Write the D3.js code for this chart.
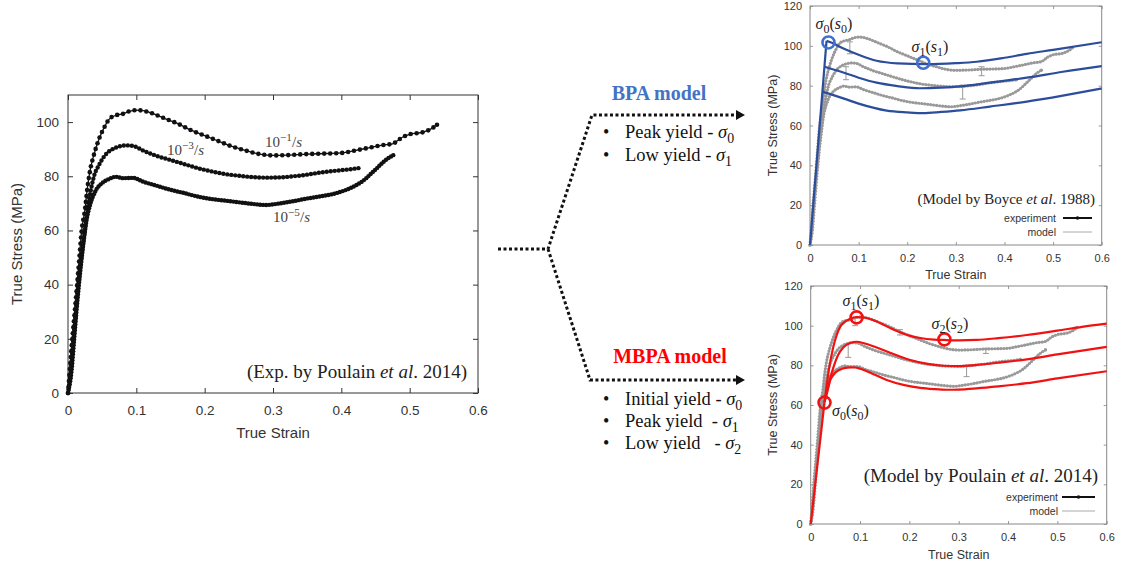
<!DOCTYPE html>
<html>
<head>
<meta charset="utf-8">
<script src="https://cdn.jsdelivr.net/npm/d3@7"></script>
<style>
  body { margin: 0; background: #fff; }
  text { white-space: pre; }
</style>
</head>
<body>
<div id="fig"></div>
<script>
const W = 1124, H = 567;
const SANS = "'Liberation Sans', Arial, sans-serif";
const SERIF = "'Liberation Serif', 'Times New Roman', serif";

// ticks
const strainTicks = [0, 0.1, 0.2, 0.3, 0.4, 0.5, 0.6];
const strainTickLabels = ["0", "0.1", "0.2", "0.3", "0.4", "0.5", "0.6"];
const stressTicksExp = [0, 20, 40, 60, 80, 100];
const stressTicksModel = [0, 20, 40, 60, 80, 100, 120];

// experiment (Poulain 2014), [strain, stress MPa]
const exp1 = [[0,0],[0.003,10],[0.007,22],[0.011,33],[0.016,48],[0.02,60],[0.025,68],[0.028,75],[0.033,83],[0.038,88],
  [0.045,93.5],[0.052,97.5],[0.06,101],[0.07,102.5],[0.08,103],[0.09,104],[0.1,104.4],[0.11,104.2],[0.12,103.5],
  [0.14,101.5],[0.16,99.5],[0.18,97],[0.2,95],[0.22,93],[0.24,91],[0.26,89.5],[0.28,88.2],[0.3,87.7],[0.32,87.8],
  [0.35,88.2],[0.38,88.4],[0.4,88.6],[0.42,89.5],[0.44,90.5],[0.46,91.5],[0.475,92],[0.49,94.5],[0.5,95.5],
  [0.52,96.3],[0.53,97.3],[0.54,99]];
const exp2 = [[0,0],[0.004,8],[0.008,20],[0.012,32],[0.017,45],[0.022,55],[0.027,65],[0.032,73],[0.038,80],[0.045,84],
  [0.055,88],[0.065,90],[0.075,91],[0.085,91.4],[0.095,91.2],[0.11,89.5],[0.13,87.5],[0.15,86],[0.17,84.5],[0.19,83],
  [0.21,81.8],[0.23,80.8],[0.25,80.2],[0.27,79.7],[0.29,79.5],[0.31,79.6],[0.33,80],[0.35,80.6],[0.37,81.4],
  [0.39,82],[0.41,82.5],[0.425,83]];
const exp3 = [[0,0],[0.005,8],[0.009,20],[0.013,32],[0.018,45],[0.023,56],[0.028,65],[0.033,70],[0.04,74.5],[0.05,77.5],
  [0.06,79],[0.07,79.8],[0.08,79.3],[0.095,79.4],[0.11,78],[0.13,76.5],[0.15,75],[0.17,73.8],[0.19,72.5],[0.21,71.6],
  [0.23,71],[0.25,70.4],[0.27,69.8],[0.29,69.4],[0.31,70],[0.33,70.8],[0.35,71.8],[0.37,72.6],[0.39,73.6],
  [0.41,75.3],[0.43,78],[0.45,82.5],[0.465,86],[0.476,87.8]];
const rateLabels = ["−1", "−3", "−5"];

// BPA model (Boyce 1988)
const bpaElastic = [[0,0],[0.034,102.5]];
const bpa1 = [[0.034,102.5],[0.045,101.5],[0.07,98.5],[0.1,95.5],[0.137,92.5],[0.18,91.2],[0.24,90.8],[0.3,91.3],
  [0.343,92],[0.4,94],[0.446,96],[0.5,98],[0.6,101.8]];
const bpa2 = [[0.0297,89.5],[0.05,88],[0.07,86.5],[0.1,84],[0.137,81.5],[0.18,79.8],[0.226,78.7],[0.27,79],
  [0.309,79.6],[0.37,81.5],[0.446,84],[0.52,87],[0.6,89.8]];
const bpa3 = [[0.0255,77],[0.045,75.5],[0.07,73.5],[0.1,71],[0.158,67.5],[0.2,66.6],[0.233,66.2],[0.27,66.8],
  [0.309,67.6],[0.37,69.5],[0.446,72],[0.52,75],[0.6,78.6]];
const bpaYield = [[0.038,101.7],[0.233,91.5]];
const bpaErr = [[0.082,96,102],[0.074,83,89.5],[0.314,73.3,80.3],[0.353,85,89.5]];

// MBPA model (Poulain 2014)
const mbpaElastic = [[0,0],[0.028,61.5]];
const mbpa1 = [[0.028,61.5],[0.037,78],[0.046,89.5],[0.053,95.5],[0.06,99.5],[0.07,102],[0.08,103.5],[0.093,104.3],
  [0.11,104],[0.13,102.5],[0.168,98],[0.2,95],[0.222,93.8],[0.25,93],[0.27,92.8],[0.3,92.6],[0.336,92.8],
  [0.38,93.7],[0.438,95.3],[0.5,97.5],[0.55,99.4],[0.6,101]];
const mbpa2 = [[0.028,61.5],[0.036,70],[0.046,79],[0.055,85],[0.066,89],[0.08,91.3],[0.093,91.9],[0.11,91],
  [0.134,89],[0.165,86],[0.2,82.8],[0.24,80.6],[0.269,79.8],[0.3,79.6],[0.336,80.2],[0.38,81.3],[0.438,83],
  [0.5,85.5],[0.6,89.3]];
const mbpa3 = [[0.028,61.5],[0.034,67],[0.039,72],[0.047,75.5],[0.059,77.8],[0.07,78.7],[0.08,79],[0.09,78.9],
  [0.1,78.3],[0.125,75.8],[0.154,72.6],[0.19,70],[0.222,68.6],[0.25,68],[0.276,67.7],[0.3,67.8],[0.336,68.4],
  [0.38,69.4],[0.438,71],[0.5,73.4],[0.6,77]];
const mbpaYield = [[0.028,61.2],[0.093,104.2],[0.271,93.1]];
const mbpaErr = [[0.09,100,104],[0.076,84,91],[0.181,95.3,98],[0.316,74.3,79.7],[0.355,86,88.6]];

const svg = d3.select("#fig").append("svg")
  .attr("width", W).attr("height", H)
  .style("background", "#fff");

// math-ish text with italic / sub / sup parts
function mathText(sel, x, y, parts, size, anchor, color) {
  const t = sel.append("text").attr("x", x).attr("y", y)
    .attr("font-family", SERIF).attr("font-size", size)
    .attr("text-anchor", anchor || "start").attr("fill", color || "#222");
  let shift = 0;
  parts.forEach(p => {
    const s = t.append("tspan").text(p[0]);
    const kind = p[1] || "";
    const want = kind.includes("sub") ? 0.25 * size : kind.includes("sup") ? -0.42 * size : 0;
    if (want !== shift) { s.attr("dy", want - shift); shift = want; }
    if (kind.includes("sub") || kind.includes("sup")) s.attr("font-size", size * 0.75);
    if (kind.includes("i")) s.attr("font-style", "italic");
  });
  return t;
}

function panel(o) {
  const x = d3.scaleLinear().domain([0, 0.6]).range([o.x0, o.x1]);
  const y = d3.scaleLinear().domain([0, o.ymax]).range([o.y0, o.y1]);
  const g = svg.append("g");
  const fmt = (d, i) => strainTickLabels[i];

  const ax = (axis, tr, ticks, labels, pad) => {
    const a = g.append("g").attr("transform", tr)
      .call(axis.tickValues(ticks).tickSizeInner(-o.tick).tickSizeOuter(0).tickPadding(pad)
        .tickFormat(labels ? labels : ""));
    a.select(".domain").remove();
    a.selectAll("line").attr("stroke", o.tickColor);
    a.selectAll("text").attr("font-family", SANS).attr("font-size", o.tickFont).attr("fill", o.textColor);
  };
  ax(d3.axisBottom(x), `translate(0,${o.y0})`, strainTicks, fmt, o.padX);
  ax(d3.axisTop(x), `translate(0,${o.y1})`, strainTicks, null, 0);
  ax(d3.axisLeft(y), `translate(${o.x0},0)`, o.yTicks, d => d, o.padY);
  ax(d3.axisRight(y), `translate(${o.x1},0)`, o.yTicks, null, 0);

  g.append("rect").attr("x", o.x0).attr("y", o.y1)
    .attr("width", o.x1 - o.x0).attr("height", o.y0 - o.y1)
    .attr("fill", "none").attr("stroke", o.frameColor).attr("stroke-width", 1);

  g.append("text").attr("x", (o.x0 + o.x1) / 2).attr("y", o.xlabY)
    .attr("text-anchor", "middle").attr("font-family", SANS).attr("font-size", o.labFont)
    .attr("fill", o.textColor).text("True Strain");
  g.append("text").attr("transform", `translate(${o.ylabX},${(o.y0 + o.y1) / 2}) rotate(-90)`)
    .attr("text-anchor", "middle").attr("dy", "0.35em").attr("font-family", SANS).attr("font-size", o.labFont)
    .attr("fill", o.textColor).text("True Stress (MPa)");
  return { g, x, y };
}

function curve(p, data, color, width, kind) {
  const line = d3.line().x(d => p.x(d[0])).y(d => p.y(d[1]))
    .curve(kind === "lin" ? d3.curveLinear : d3.curveMonotoneX);
  return p.g.append("path").datum(data).attr("d", line)
    .attr("fill", "none").attr("stroke", color).attr("stroke-width", width)
    .attr("stroke-linejoin", "round");
}

function dotsAlong(p, path, step, r, color) {
  const node = path.node(), L = node.getTotalLength();
  const pts = d3.range(0, L, step).concat([L]).map(l => node.getPointAtLength(l));
  p.g.append("g").selectAll("circle").data(pts).join("circle")
    .attr("cx", d => d.x).attr("cy", d => d.y).attr("r", r).attr("fill", color);
}

function errBars(p, data, color) {
  const eg = p.g.append("g").attr("stroke", color).attr("stroke-width", 1);
  data.forEach(d => {
    const cx = p.x(d[0]);
    eg.append("line").attr("x1", cx).attr("x2", cx).attr("y1", p.y(d[1])).attr("y2", p.y(d[2]));
    [d[1], d[2]].forEach(v => eg.append("line").attr("x1", cx - 3).attr("x2", cx + 3)
      .attr("y1", p.y(v)).attr("y2", p.y(v)));
  });
}

function legend(p, xr, yExp, yMod, x1, x2) {
  const lg = p.g.append("g").attr("font-family", SANS).attr("font-size", 10.5).attr("fill", "#333");
  lg.append("text").attr("x", xr).attr("y", yExp).attr("dy", "0.35em").attr("text-anchor", "end").text("experiment");
  lg.append("text").attr("x", xr).attr("y", yMod).attr("dy", "0.35em").attr("text-anchor", "end").text("model");
  lg.append("line").attr("x1", x1).attr("x2", x2).attr("y1", yExp).attr("y2", yExp)
    .attr("stroke", "#111").attr("stroke-width", 2);
  lg.append("circle").attr("cx", (x1 + x2) / 2).attr("cy", yExp).attr("r", 1.8).attr("fill", "#111");
  lg.append("line").attr("x1", x1).attr("x2", x2).attr("y1", yMod).attr("y2", yMod)
    .attr("stroke", "#aaa").attr("stroke-width", 1);
}

// ---------- left: experiment ----------
const pL = panel({ x0: 68, x1: 478, y0: 393, y1: 95, ymax: 110, yTicks: stressTicksExp,
  tick: 5, padX: 12, padY: 9, tickFont: 13.5, labFont: 15, tickColor: "#333", frameColor: "#333", textColor: "#333",
  xlabY: 438, ylabX: 17 });
[[exp3, 3, 2.2], [exp2, 4, 2.2], [exp1, 6, 2.3]].forEach(([d, step, r]) => {
  const path = curve(pL, d, "#111", 1.3);
  dotsAlong(pL, path, step, r, "#111");
});
[[265, 147, 0], [167, 155, 1], [273, 222, 2]].forEach(([lx, ly, i]) => {
  mathText(pL.g, lx, ly, [["10"], [rateLabels[i], "sup"], ["/"], ["s", "i"]], 15, "start", "#444");
});
mathText(pL.g, 467, 378, [["(Exp. by Poulain "], ["et al", "i"], [". 2014)"]], 19, "end", "#222");

// ---------- right top: BPA ----------
const pB = panel({ x0: 810, x1: 1101.7, y0: 245, y1: 6, ymax: 120, yTicks: stressTicksModel,
  tick: 3, padX: 9, padY: 8, tickFont: 11, labFont: 12.5, tickColor: "#999", frameColor: "#888", textColor: "#333",
  xlabY: 279, ylabX: 773 });
[exp1, exp2, exp3].forEach(d => {
  const path = curve(pB, d, "#a0a0a0", 1.5);
  dotsAlong(pB, path, 3, 1.6, "#999");
});
errBars(pB, bpaErr, "#999");
const BLUE = "#2c4c9c", BLUE_C = "#3f6fd0";
curve(pB, bpaElastic, BLUE, 2.2, "lin");
[bpa1, bpa2, bpa3].forEach(d => curve(pB, d, BLUE, 2.2));
pB.g.append("g").selectAll("circle").data(bpaYield).join("circle")
  .attr("cx", d => pB.x(d[0])).attr("cy", d => pB.y(d[1])).attr("r", 6)
  .attr("fill", "none").attr("stroke", BLUE_C).attr("stroke-width", 2.6);
mathText(pB.g, 834, 29, [["σ", "i"], ["0", "sub"], ["("], ["s", "i"], ["0", "sub"], [")"]], 16, "middle");
mathText(pB.g, 930, 52, [["σ", "i"], ["1", "sub"], ["("], ["s", "i"], ["1", "sub"], [")"]], 16, "middle");
mathText(pB.g, 1095, 204, [["(Model by Boyce "], ["et al", "i"], [". 1988)"]], 15, "end", "#222");
legend(pB, 1056, 218, 232, 1063, 1092);

// ---------- right bottom: MBPA ----------
const pM = panel({ x0: 810.7, x1: 1106.7, y0: 524, y1: 286, ymax: 120, yTicks: stressTicksModel,
  tick: 3, padX: 9, padY: 8, tickFont: 11, labFont: 12.5, tickColor: "#999", frameColor: "#888", textColor: "#333",
  xlabY: 559, ylabX: 773 });
[exp1, exp2, exp3].forEach(d => {
  const path = curve(pM, d, "#a0a0a0", 1.5);
  dotsAlong(pM, path, 3, 1.6, "#999");
});
errBars(pM, mbpaErr, "#999");
const RED = "#f21111";
curve(pM, mbpaElastic, RED, 2.2, "lin");
[mbpa1, mbpa2, mbpa3].forEach(d => curve(pM, d, RED, 2.2));
pM.g.append("g").selectAll("circle").data(mbpaYield).join("circle")
  .attr("cx", d => pM.x(d[0])).attr("cy", d => pM.y(d[1])).attr("r", 6)
  .attr("fill", "none").attr("stroke", RED).attr("stroke-width", 2.6);
mathText(pM.g, 861, 306, [["σ", "i"], ["1", "sub"], ["("], ["s", "i"], ["1", "sub"], [")"]], 16, "middle");
mathText(pM.g, 950, 329, [["σ", "i"], ["2", "sub"], ["("], ["s", "i"], ["2", "sub"], [")"]], 16, "middle");
mathText(pM.g, 832, 416, [["σ", "i"], ["0", "sub"], ["("], ["s", "i"], ["0", "sub"], [")"]], 16, "start");
mathText(pM.g, 1098, 482, [["(Model by Poulain "], ["et al", "i"], [". 2014)"]], 19, "end", "#222");
legend(pM, 1058, 497, 511, 1062, 1095);

// ---------- middle: branching diagram ----------
const mid = svg.append("g");
mid.append("path").attr("d", "M498,249H548L592,115H737M548,249L590,380H737")
  .attr("fill", "none").attr("stroke", "#111").attr("stroke-width", 3)
  .attr("stroke-dasharray", "3 2.5");
mid.append("path").attr("d", "M736,110L745,115L736,120ZM736,375L745,380L736,385Z").attr("fill", "#111");

mid.append("text").attr("x", 659).attr("y", 100).attr("text-anchor", "middle")
  .attr("font-family", SERIF).attr("font-weight", "bold").attr("font-size", 20)
  .attr("fill", "#4472c4").text("BPA model");
mid.append("text").attr("x", 670).attr("y", 363).attr("text-anchor", "middle")
  .attr("font-family", SERIF).attr("font-weight", "bold").attr("font-size", 20)
  .attr("fill", "#ff0000").text("MBPA model");

const bullets = [
  [138, "Peak yield - ", "0"], [161, "Low yield - ", "1"],
  [405, "Initial yield - ", "0"], [427, "Peak yield  - ", "1"], [449, "Low yield   - ", "2"]
];
bullets.forEach(([by, label, k]) => {
  mid.append("text").attr("x", 603).attr("y", by).attr("font-family", SERIF).attr("font-size", 18)
    .attr("fill", "#111").text("•");
  mathText(mid, 625, by, [[label], ["σ", "i"], [k, "sub"]], 18.5, "start", "#111");
});
</script>
</body>
</html>
